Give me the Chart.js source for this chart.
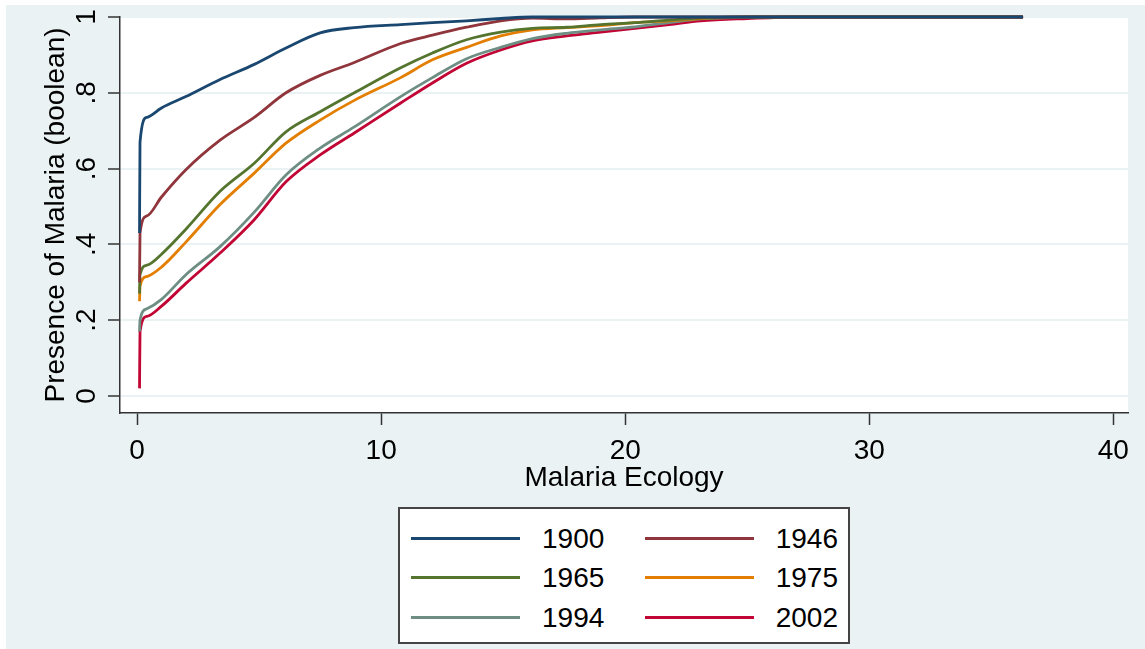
<!DOCTYPE html>
<html>
<head>
<meta charset="utf-8">
<script src="https://cdn.jsdelivr.net/npm/chart.js@4/dist/chart.umd.min.js"></script>
<style>
  body { margin: 0; background: #fff; font-family: "Liberation Sans", Arial, sans-serif; }
  #wrap { position: relative; width: 1145px; height: 649px; }
  #legend {
    position: absolute; left: 398px; top: 507px; width: 448px; height: 133px;
    background: #fff; border: 2px solid #444;
  }
  .item { position: absolute; height: 30px; font-size: 28px; line-height: 30px; color: #000; }
  .item .swatch { position: absolute; top: 13px; height: 3px; width: 109px; }
</style>
</head>
<body>
<div id="wrap">
  <canvas id="myChart"></canvas>
  <div id="legend"></div>
</div>
<script>
//malaria ecology values shared by every curve
let ecology = [0.1, 0.12, 0.4, 1, 2, 3.4, 4.8, 6.1, 7.5, 8.9, 10.8, 12.1, 13.5, 14.9, 16.2, 17.6, 19, 20.4, 21.8, 23.1, 25, 27, 36.3];

//presence of malaria by year
let y1900 = [0.43, 0.67, 0.735, 0.76, 0.79, 0.835, 0.875, 0.918, 0.958, 0.972, 0.98, 0.985, 0.99, 0.996, 1, 1, 1, 1, 1, 1, 1, 1, 1];
let y1946 = [0.30, 0.43, 0.475, 0.525, 0.597, 0.675, 0.735, 0.80, 0.846, 0.88, 0.93, 0.952, 0.973, 0.99, 0.997, 0.995, 0.998, 1, 1, 1, 1, 1, 1];
let y1965 = [0.27, 0.32, 0.345, 0.374, 0.44, 0.54, 0.614, 0.697, 0.75, 0.80, 0.866, 0.905, 0.94, 0.96, 0.97, 0.973, 0.98, 0.985, 0.992, 0.997, 1, 1, 1];
let y1975 = [0.25, 0.29, 0.315, 0.34, 0.406, 0.505, 0.588, 0.667, 0.728, 0.78, 0.84, 0.887, 0.92, 0.95, 0.966, 0.972, 0.977, 0.985, 0.99, 0.996, 1, 1, 1];
let y1994 = [0.17, 0.20, 0.23, 0.255, 0.32, 0.394, 0.485, 0.583, 0.654, 0.71, 0.79, 0.84, 0.89, 0.92, 0.943, 0.957, 0.966, 0.974, 0.985, 0.995, 0.999, 1, 1];
let y2002 = [0.02, 0.17, 0.21, 0.237, 0.297, 0.377, 0.465, 0.565, 0.636, 0.694, 0.773, 0.826, 0.878, 0.913, 0.937, 0.95, 0.96, 0.97, 0.98, 0.99, 0.996, 1, 1];

let years = ['1900', '1946', '1965', '1975', '1994', '2002'];
let seriesValues = [y1900, y1946, y1965, y1975, y1994, y2002];
let colors = ['#1a476f', '#90353b', '#55752f', '#e37e00', '#6e8e84', '#c10534'];

let xTicks = [0, 10, 20, 30, 40];
let yTicks = [0, 0.2, 0.4, 0.6, 0.8, 1];

const axisFont = { family: "'Liberation Sans', Arial, sans-serif", size: 28 };

//graph region colour behind everything, white plot region
const backgroundPlugin = {
    id: 'background',
    beforeDraw(chart) {
        const c = chart.ctx;
        const a = chart.chartArea;
        c.save();
        c.fillStyle = '#eaf2f3';
        c.fillRect(6, 5, chart.width - 6, chart.height - 5);
        c.fillStyle = '#ffffff';
        c.fillRect(a.left, a.top + 1, a.right - a.left, a.bottom - a.top - 1);
        c.restore();
    }
};

const ctx = document.getElementById('myChart').getContext('2d');
const myChart = new Chart(ctx, {
    type: 'line',
    data: {
        datasets: years.map((year, i) => ({
            label: year,
            data: ecology.map((x, j) => ({ x: x, y: seriesValues[i][j] })),
            borderColor: colors[i],
            borderWidth: 2.8,
            pointRadius: 0,
            cubicInterpolationMode: 'monotone',
            clip: false
        }))
    },
    options: {
        responsive: true,
        maintainAspectRatio: false,
        animation: false,
        layout: { padding: { top: 17, right: 17, bottom: 151, left: 0 } },
        plugins: {
            legend: { display: false },
            tooltip: { enabled: false }
        },
        scales: {
            x: {
                type: 'linear',
                min: -0.7,
                max: 40.6,
                afterBuildTicks: scale => { scale.ticks = xTicks.map(v => ({ value: v })); },
                afterFit: scale => {
                    scale.height = 85;
                    scale.paddingLeft = 0;
                    scale.paddingRight = 0;
                },
                grid: {
                    drawOnChartArea: false,
                    drawTicks: true,
                    tickLength: 12,
                    tickColor: '#333',
                    tickWidth: 1.5
                },
                border: { display: true, color: '#333', width: 1.5 },
                ticks: {
                    font: axisFont,
                    color: '#000',
                    padding: 9,
                    maxRotation: 0,
                    callback: v => String(v)
                },
                title: {
                    display: true,
                    text: 'Malaria Ecology',
                    font: axisFont,
                    color: '#000',
                    padding: { top: 0, bottom: 3 }
                }
            },
            y: {
                type: 'linear',
                min: -0.045,
                max: 1,
                afterBuildTicks: scale => { scale.ticks = yTicks.map(v => ({ value: v })); },
                afterFit: scale => {
                    scale.width = 120;
                    scale.paddingTop = 0;
                    scale.paddingBottom = 0;
                },
                grid: {
                    color: '#eaf2f3',
                    lineWidth: 2,
                    drawTicks: true,
                    tickLength: 12,
                    tickColor: '#333',
                    tickWidth: 1.5
                },
                border: { display: true, color: '#333', width: 1.5 },
                ticks: {
                    font: axisFont,
                    color: '#000',
                    padding: 9,
                    minRotation: 90,
                    maxRotation: 90,
                    crossAlign: 'center',
                    callback: v => v === 0 ? '0' : v === 1 ? '1' : String(v).replace(/^0/, '')
                },
                title: {
                    display: true,
                    text: 'Presence of Malaria (boolean)',
                    font: axisFont,
                    color: '#000',
                    padding: { top: 39, bottom: 0 }
                }
            }
        }
    },
    plugins: [backgroundPlugin]
});

//legend box: two columns, three rows, built from the datasets
function buildLegend() {
    const box = document.getElementById('legend');
    const rowTops = [15, 54, 94];
    myChart.data.datasets.forEach((ds, i) => {
        const col = i % 2;
        const row = Math.floor(i / 2);
        const item = document.createElement('div');
        item.className = 'item';
        item.style.top = rowTops[row] + 'px';
        const swatch = document.createElement('div');
        swatch.className = 'swatch';
        swatch.style.background = ds.borderColor;
        const text = document.createElement('span');
        text.textContent = ds.label;
        text.style.position = 'absolute';
        if (col === 0) {
            item.style.left = '11px';
            item.style.width = '200px';
            swatch.style.left = '0px';
            text.style.left = '131px';
        } else {
            item.style.left = '245px';
            item.style.width = '193px';
            swatch.style.left = '0px';
            text.style.right = '0px';
        }
        item.appendChild(swatch);
        item.appendChild(text);
        box.appendChild(item);
    });
}
buildLegend();
</script>
</body>
</html>
